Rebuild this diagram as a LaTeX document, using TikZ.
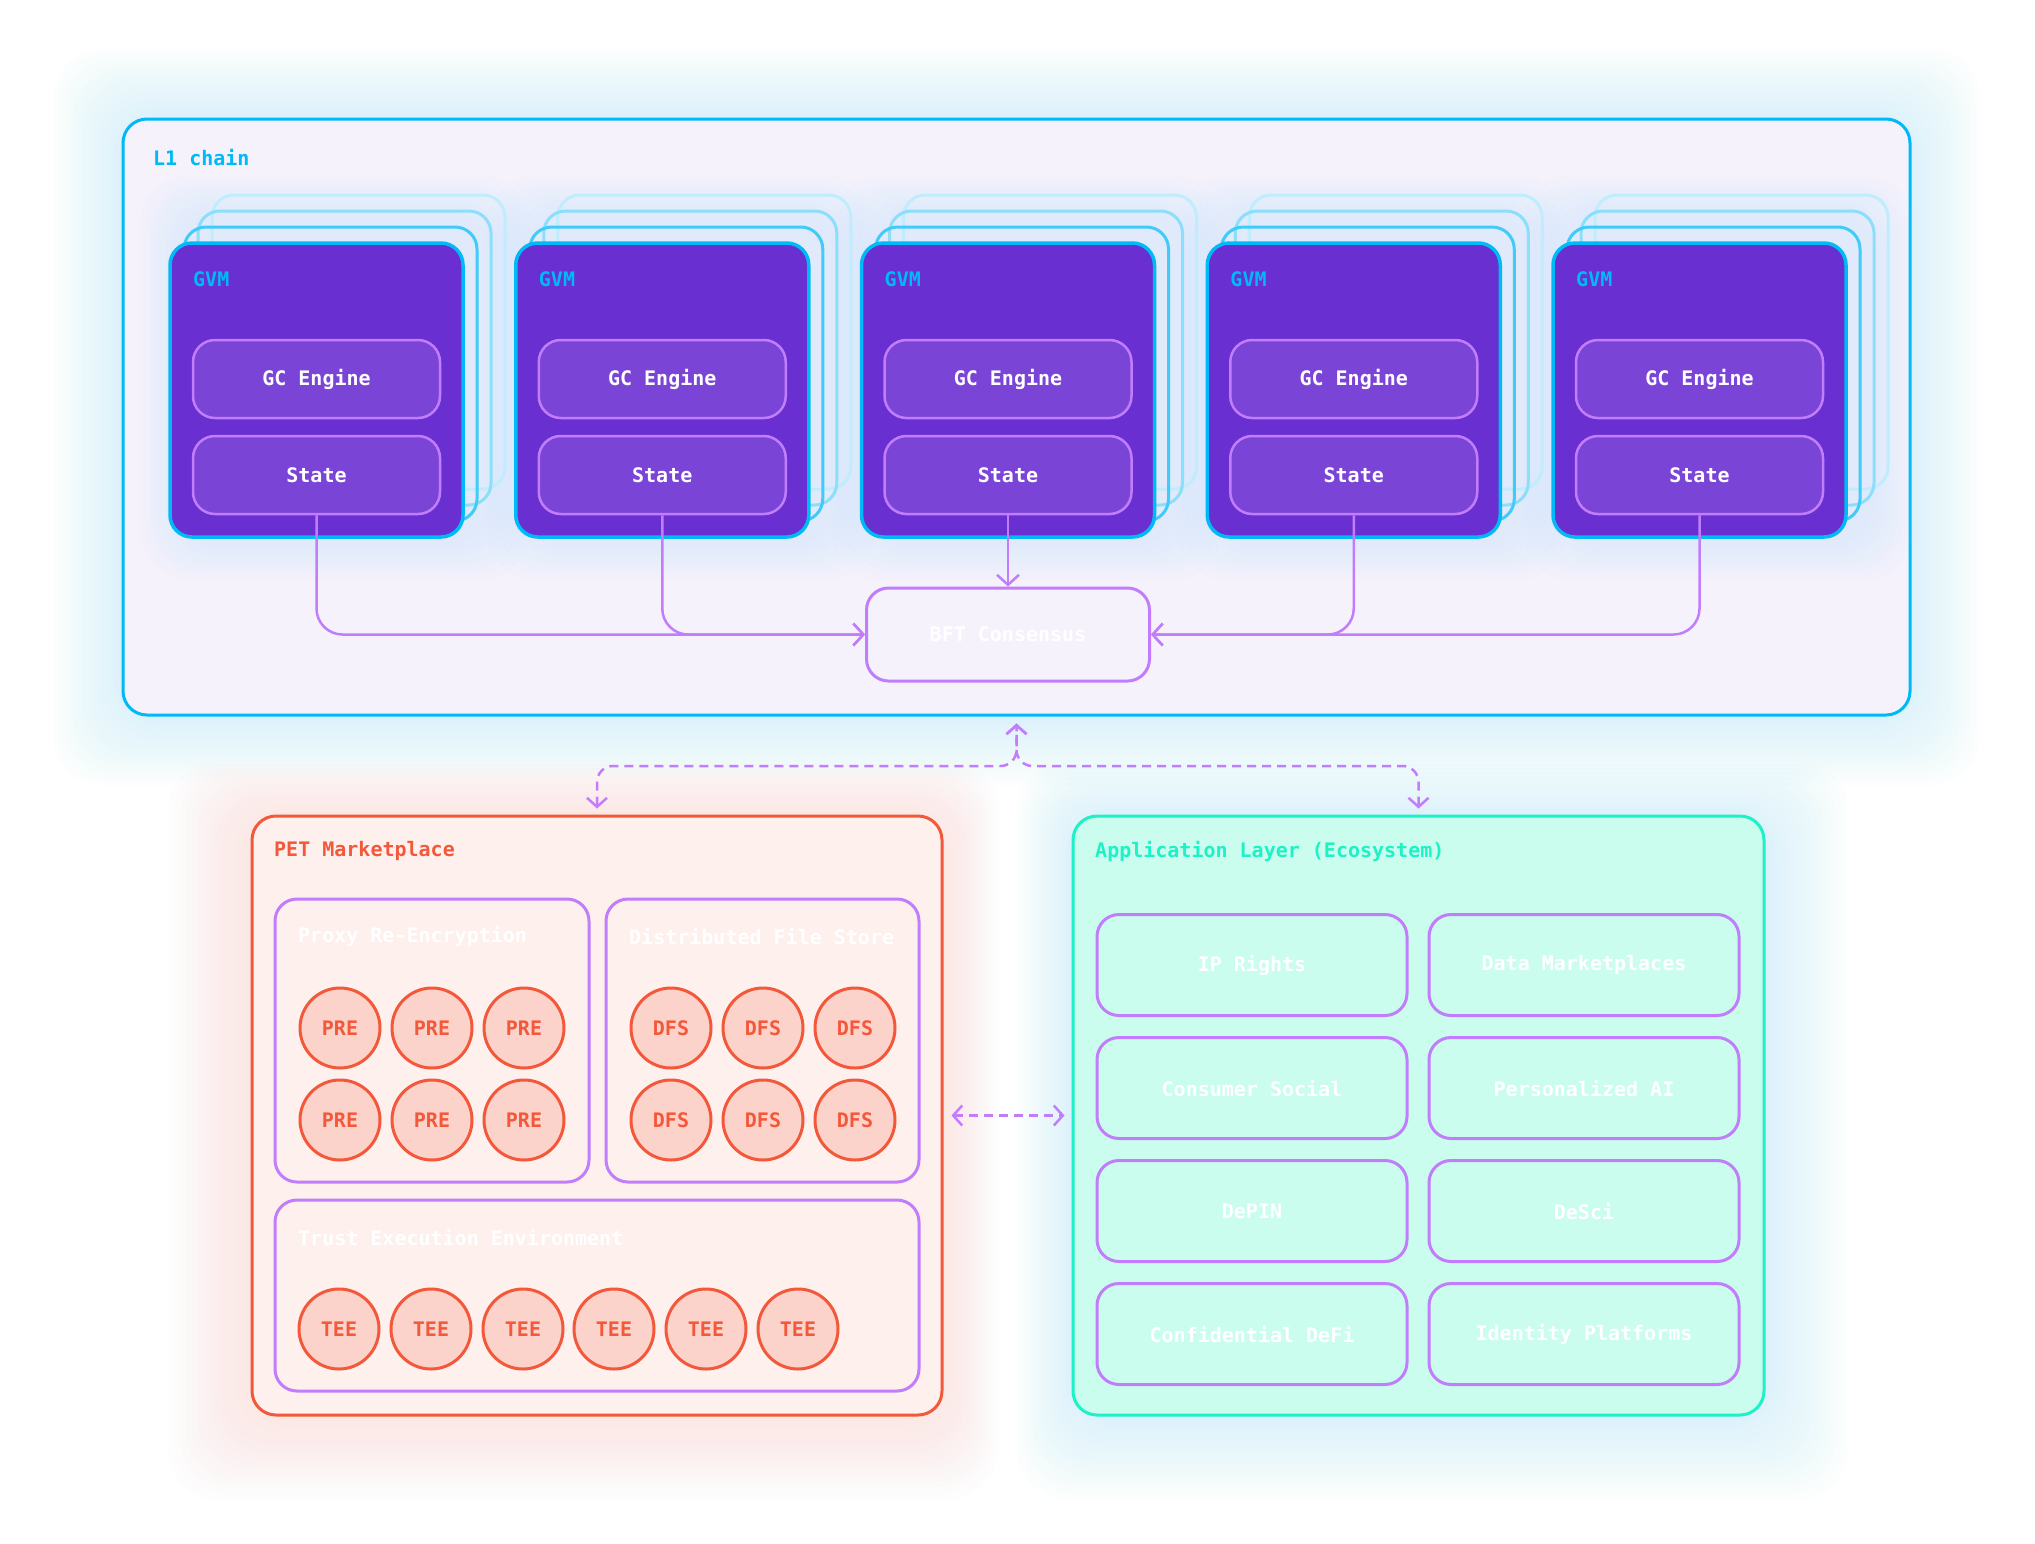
\documentclass[tikz,border=0pt]{standalone}
\usepackage{fontspec}
\setmonofont{DejaVu Sans Mono}
\usepackage{tikz}
\usetikzlibrary{arrows.meta,shapes}

\definecolor{chaincyan}{HTML}{00B9F7}
\definecolor{gvmpurple}{HTML}{692FD0}
\definecolor{innerpurple}{HTML}{7A44D7}
\definecolor{lilac}{HTML}{C17DFC}
\definecolor{chainfill}{HTML}{F5F2FC}
\definecolor{petred}{HTML}{F4583B}
\definecolor{petfill}{HTML}{FDF0ED}
\definecolor{petdot}{HTML}{FBD3CA}
\definecolor{mint}{HTML}{1CF2C6}
\definecolor{mintfill}{HTML}{CAFDEE}
\definecolor{glowblue}{HTML}{B5E4FB}
\definecolor{glowpink}{HTML}{FBD2C8}

\tikzset{
  every node/.style={font=\ttfamily\bfseries\fontsize{20}{24}\selectfont},
  gvmbox/.style={draw=chaincyan,fill=gvmpurple,rounded corners=22pt,line width=3.5pt,minimum width=293pt,minimum height=294pt},
  partbox/.style={draw=lilac,fill=innerpurple,rounded corners=22pt,line width=2.5pt,minimum width=247pt,minimum height=78pt,text=white},
  stackline/.style={rounded corners=22pt,line width=3pt},
  itembox/.style={draw=lilac,rounded corners=22pt,line width=3pt,text=white},
  petdisc/.style={circle,draw=petred,fill=petdot,line width=3pt,minimum size=80pt,inner sep=0pt,text=petred},
  tagtext/.style={anchor=west,inner sep=0pt},
  conn/.style={draw=lilac,line width=2.5pt,rounded corners=26pt,-{Straight Barb[length=10pt,width=22pt]}},
  dashconn/.style={draw=lilac,line width=2.5pt,rounded corners=16pt,dash pattern=on 9pt off 6pt,{Straight Barb[length=9pt,width=20pt]}-{Straight Barb[length=9pt,width=20pt]}},
  haze/.style={fill opacity=0.035,rounded corners=50pt}
}

\begin{document}
\begin{tikzpicture}[x=1pt,y=-1pt]
\useasboundingbox[fill=white] (0,0) rectangle (2035,1543);

% soft glows behind the three areas
\foreach \g in {1,...,14}
  \fill[glowblue,haze] (123-5*\g,119-5*\g) rectangle (1910+5*\g,715+5*\g);
\foreach \g in {1,...,14}
  \fill[glowpink,haze] (252-6*\g,816-4*\g) rectangle (942+4*\g,1415+6*\g);
\foreach \g in {1,...,14}
  \fill[glowblue,haze] (1073-4*\g,816-4*\g) rectangle (1764+6*\g,1415+6*\g);

% L1 chain
\node[draw=chaincyan,fill=chainfill,line width=3pt,rounded corners=24pt,minimum width=1787pt,minimum height=596pt] (l1) at (1016.5,417) {};
\node[tagtext,text=chaincyan] (chainlabel) at (153,158) {L1 chain};

\foreach \gx in {170,515.75,861.5,1207.25,1553}
  \foreach \g in {1,...,8}
    \fill[glowblue,fill opacity=0.04,rounded corners=50pt] (\gx+10-5*\g,215-5*\g) rectangle (\gx+320+5*\g,540+5*\g);

% stacked copies behind each GVM
\draw[stackline,draw=chaincyan!25] (212,195) rectangle ++(293,294);
\draw[stackline,draw=chaincyan!45] (198,211) rectangle ++(293,294);
\draw[stackline,draw=chaincyan!75] (184,227) rectangle ++(293,294);
\draw[stackline,draw=chaincyan!25] (557.75,195) rectangle ++(293,294);
\draw[stackline,draw=chaincyan!45] (543.75,211) rectangle ++(293,294);
\draw[stackline,draw=chaincyan!75] (529.75,227) rectangle ++(293,294);
\draw[stackline,draw=chaincyan!25] (903.5,195) rectangle ++(293,294);
\draw[stackline,draw=chaincyan!45] (889.5,211) rectangle ++(293,294);
\draw[stackline,draw=chaincyan!75] (875.5,227) rectangle ++(293,294);
\draw[stackline,draw=chaincyan!25] (1249.25,195) rectangle ++(293,294);
\draw[stackline,draw=chaincyan!45] (1235.25,211) rectangle ++(293,294);
\draw[stackline,draw=chaincyan!75] (1221.25,227) rectangle ++(293,294);
\draw[stackline,draw=chaincyan!25] (1595,195) rectangle ++(293,294);
\draw[stackline,draw=chaincyan!45] (1581,211) rectangle ++(293,294);
\draw[stackline,draw=chaincyan!75] (1567,227) rectangle ++(293,294);

\node[gvmbox] (gvm1) at (316.5,390) {};
\node[gvmbox] (gvm2) at (662.25,390) {};
\node[gvmbox] (gvm3) at (1008,390) {};
\node[gvmbox] (gvm4) at (1353.75,390) {};
\node[gvmbox] (gvm5) at (1699.5,390) {};
\node[tagtext,text=chaincyan] (gvmlabel1) at (193,279) {GVM};
\node[tagtext,text=chaincyan] (gvmlabel2) at (538.75,279) {GVM};
\node[tagtext,text=chaincyan] (gvmlabel3) at (884.5,279) {GVM};
\node[tagtext,text=chaincyan] (gvmlabel4) at (1230.25,279) {GVM};
\node[tagtext,text=chaincyan] (gvmlabel5) at (1576,279) {GVM};
\node[partbox] (engine1) at (316.5,379) {GC Engine};
\node[partbox] (engine2) at (662.25,379) {GC Engine};
\node[partbox] (engine3) at (1008,379) {GC Engine};
\node[partbox] (engine4) at (1353.75,379) {GC Engine};
\node[partbox] (engine5) at (1699.5,379) {GC Engine};
\node[partbox] (state1) at (316.5,475) {State};
\node[partbox] (state2) at (662.25,475) {State};
\node[partbox] (state3) at (1008,475) {State};
\node[partbox] (state4) at (1353.75,475) {State};
\node[partbox] (state5) at (1699.5,475) {State};

\node[itembox,minimum width=283pt,minimum height=93pt] (bft) at (1008,634.5) {BFT Consensus};
\draw[conn] (state1.south) |- (bft.west);
\draw[conn] (state2.south) |- (bft.west);
\draw[conn] (state3.south) -- (bft.north);
\draw[conn] (state4.south) |- (bft.east);
\draw[conn] (state5.south) |- (bft.east);

% PET Marketplace
\node[draw=petred,fill=petfill,line width=3pt,rounded corners=24pt,minimum width=690pt,minimum height=599pt] (pet) at (597,1115.5) {};
\node[tagtext,text=petred] (petlabel) at (274,851) {PET Marketplace};
\node[itembox,minimum width=314pt,minimum height=283pt] (proxy) at (432,1040.5) {};
\node[tagtext,text=white] (proxylabel) at (298,936) {Proxy Re-Encryption};
\node[itembox,minimum width=313pt,minimum height=283pt] (store) at (762.5,1040.5) {};
\node[tagtext,text=white] (storelabel) at (629,936) {Distributed File Store};
\node[itembox,minimum width=644pt,minimum height=191pt] (trust) at (597,1295.5) {};
\node[tagtext,text=white] (trustlabel) at (298,1237) {Trust Execution Environment};
\node[petdisc] (pre1) at (340,1028) {PRE};
\node[petdisc] (pre2) at (432,1028) {PRE};
\node[petdisc] (pre3) at (524,1028) {PRE};
\node[petdisc] (pre4) at (340,1120) {PRE};
\node[petdisc] (pre5) at (432,1120) {PRE};
\node[petdisc] (pre6) at (524,1120) {PRE};
\node[petdisc] (dfs1) at (671,1028) {DFS};
\node[petdisc] (dfs2) at (763,1028) {DFS};
\node[petdisc] (dfs3) at (855,1028) {DFS};
\node[petdisc] (dfs4) at (671,1120) {DFS};
\node[petdisc] (dfs5) at (763,1120) {DFS};
\node[petdisc] (dfs6) at (855,1120) {DFS};
\node[petdisc] (tee1) at (339,1329) {TEE};
\node[petdisc] (tee2) at (431,1329) {TEE};
\node[petdisc] (tee3) at (523,1329) {TEE};
\node[petdisc] (tee4) at (614,1329) {TEE};
\node[petdisc] (tee5) at (706,1329) {TEE};
\node[petdisc] (tee6) at (798,1329) {TEE};

% Application Layer
\node[draw=mint,fill=mintfill,line width=3pt,rounded corners=24pt,minimum width=691pt,minimum height=599pt] (app) at (1418.5,1115.5) {};
\node[tagtext,text=mint] (applabel) at (1095,851) {Application Layer (Ecosystem)};
\node[itembox,minimum width=310pt,minimum height=101pt] (iprights) at (1252,965) {IP Rights};
\node[itembox,minimum width=310pt,minimum height=101pt] (datamarket) at (1584,965) {Data Marketplaces};
\node[itembox,minimum width=310pt,minimum height=101pt] (social) at (1252,1088) {Consumer Social};
\node[itembox,minimum width=310pt,minimum height=101pt] (persai) at (1584,1088) {Personalized AI};
\node[itembox,minimum width=310pt,minimum height=101pt] (depin) at (1252,1211) {DePIN};
\node[itembox,minimum width=310pt,minimum height=101pt] (desci) at (1584,1211) {DeSci};
\node[itembox,minimum width=310pt,minimum height=101pt] (confdefi) at (1252,1334) {Confidential DeFi};
\node[itembox,minimum width=310pt,minimum height=101pt] (identity) at (1584,1334) {Identity Platforms};

% links between the layers
\coordinate (split) at (1016.5,766);
\draw[dashconn,shorten <=6pt,shorten >=7pt] (pet.north) |- (split) -- (l1.south);
\draw[dashconn,shorten <=6pt,shorten >=7pt] (app.north) |- (split) -- (l1.south);
\draw[dashconn,shorten <=8pt,shorten >=7pt] (pet.east) -- (app.west);
\end{tikzpicture}
\end{document}
